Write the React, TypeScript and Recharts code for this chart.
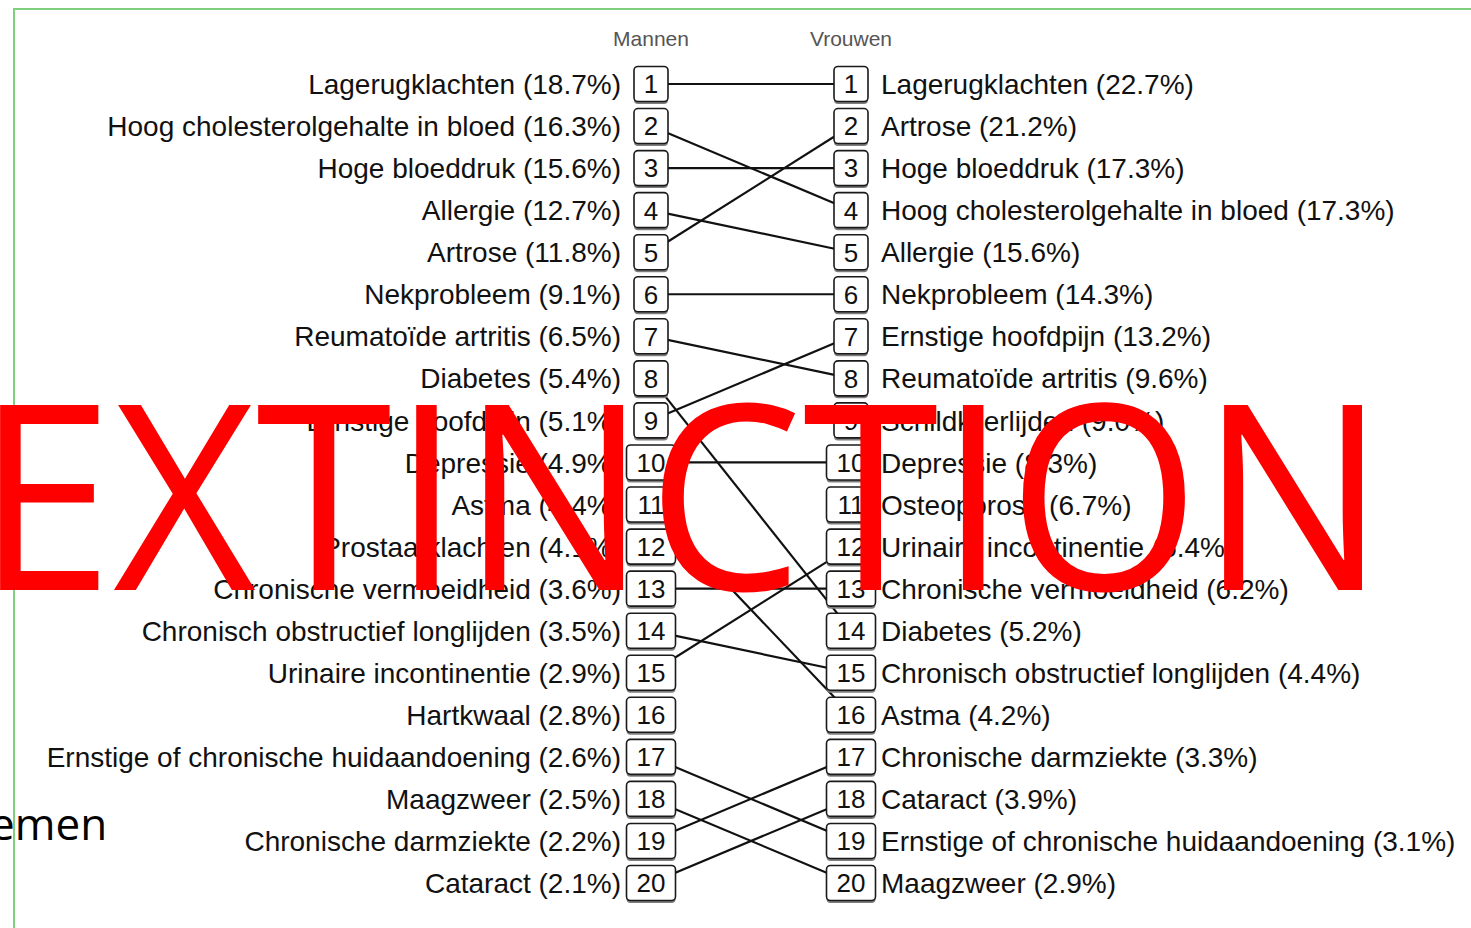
import React from "react";
import { ComposedChart, Line, Scatter, XAxis, YAxis } from "recharts";

const columnTitles = ["Mannen", "Vrouwen"];

const mannenNames = [
  "Lagerugklachten",
  "Hoog cholesterolgehalte in bloed",
  "Hoge bloeddruk",
  "Allergie",
  "Artrose",
  "Nekprobleem",
  "Reumatoïde artritis",
  "Diabetes",
  "Ernstige hoofdpijn",
  "Depressie",
  "Astma",
  "Prostaatklachten",
  "Chronische vermoeidheid",
  "Chronisch obstructief longlijden",
  "Urinaire incontinentie",
  "Hartkwaal",
  "Ernstige of chronische huidaandoening",
  "Maagzweer",
  "Chronische darmziekte",
  "Cataract",
];
const mannenPct = [18.7, 16.3, 15.6, 12.7, 11.8, 9.1, 6.5, 5.4, 5.1, 4.9, 4.4, 4.1, 3.6, 3.5, 2.9, 2.8, 2.6, 2.5, 2.2, 2.1];

const vrouwenNames = [
  "Lagerugklachten",
  "Artrose",
  "Hoge bloeddruk",
  "Hoog cholesterolgehalte in bloed",
  "Allergie",
  "Nekprobleem",
  "Ernstige hoofdpijn",
  "Reumatoïde artritis",
  "Schildklierlijden",
  "Depressie",
  "Osteoporose",
  "Urinaire incontinentie",
  "Chronische vermoeidheid",
  "Diabetes",
  "Chronisch obstructief longlijden",
  "Astma",
  "Chronische darmziekte",
  "Cataract",
  "Ernstige of chronische huidaandoening",
  "Maagzweer",
];
const vrouwenPct = [22.7, 21.2, 17.3, 17.3, 15.6, 14.3, 13.2, 9.6, 9.0, 8.3, 6.7, 6.4, 6.2, 5.2, 4.4, 4.2, 3.3, 3.9, 3.1, 2.9];

const overlayWord = "EXTINCTION";
const cutText = "emen";

const fmt = (n: string, p: number) => `${n} (${p.toFixed(1)}%)`;

const leftPoints = mannenNames.map((n, i) => ({ x: 0, y: i + 1, label: fmt(n, mannenPct[i]) }));
const rightPoints = vrouwenNames.map((n, i) => ({ x: 1, y: i + 1, label: fmt(n, vrouwenPct[i]) }));

const links = mannenNames
  .map((n, i) => {
    const j = vrouwenNames.indexOf(n);
    return j >= 0 ? { name: n, data: [{ x: 0, y: i + 1 }, { x: 1, y: j + 1 }] } : null;
  })
  .filter(Boolean) as { name: string; data: { x: number; y: number }[] }[];

const FONT = "'Liberation Sans', Arial, Helvetica, sans-serif";

const makeBox = (side: "left" | "right") => (props: any) => {
  const { cx, cy, payload } = props;
  if (cx == null || cy == null) return null;
  const num = String(payload.y);
  const w = num.length > 1 ? 49 : 34;
  const h = 35;
  const labelX = side === "left" ? cx - 30 : cx + 30;
  return (
    <g>
      <rect x={cx - w / 2} y={cy - h / 2 + 2.5} width={w} height={h} rx={4} fill="#7d7d7d" />
      <rect x={cx - w / 2} y={cy - h / 2} width={w} height={h} rx={4} fill="#fff" stroke="#1a1a1a" strokeWidth={1.6} />
      <text x={cx} y={cy} dy="0.36em" textAnchor="middle" fontFamily={FONT} fontSize={26} fill="#111">
        {num}
      </text>
      <text
        x={labelX}
        y={cy}
        dy="0.36em"
        textAnchor={side === "left" ? "end" : "start"}
        fontFamily={FONT}
        fontSize={28}
        fill="#111"
      >
        {payload.label}
      </text>
    </g>
  );
};

const HeaderTick = (props: any) => {
  const { x, payload } = props;
  return (
    <text x={x} y={38} dy="0.36em" textAnchor="middle" fontFamily={FONT} fontSize={21} fill="#555">
      {columnTitles[payload.value]}
    </text>
  );
};

export default function App() {
  return (
    <div style={{ position: "absolute", left: 0, top: 0, width: 1471, height: 928, overflow: "hidden", background: "#fff" }}>
      <div
        style={{
          position: "absolute",
          left: 13,
          top: 8,
          width: 1500,
          height: 1000,
          borderLeft: "2px solid #7fcf7f",
          borderTop: "2px solid #7fcf7f",
        }}
      />
      <div style={{ position: "absolute", left: 0, top: 0 }}>
        <ComposedChart width={1471} height={928} margin={{ top: 44, right: 620, bottom: 45, left: 651 }}>
          <XAxis
            type="number"
            dataKey="x"
            domain={[0, 1]}
            ticks={[0, 1]}
            orientation="top"
            height={40}
            axisLine={false}
            tickLine={false}
            tick={<HeaderTick />}
            interval={0}
          />
          <YAxis type="number" dataKey="y" domain={[1, 20]} reversed hide />
          {links.map((l) => (
            <Line
              key={l.name}
              data={l.data}
              dataKey="y"
              stroke="#111"
              strokeWidth={2.2}
              dot={false}
              activeDot={false}
              isAnimationActive={false}
            />
          ))}
          <Scatter data={leftPoints} dataKey="y" shape={makeBox("left")} isAnimationActive={false} />
          <Scatter data={rightPoints} dataKey="y" shape={makeBox("right")} isAnimationActive={false} />
        </ComposedChart>
      </div>
      <svg width={1471} height={928} style={{ position: "absolute", left: 0, top: 0, pointerEvents: "none" }}>
        <text x={-10} y={840} fontFamily="'Open Sans', sans-serif" fontSize={44} fill="#000">
          {cutText}
        </text>
        <text
          x={-24}
          y={590}
          fontFamily="'Open Sans', sans-serif"
          fontSize={259}
          fill="#ff0000"
          textLength={1410}
          lengthAdjust="spacingAndGlyphs"
        >
          {overlayWord}
        </text>
      </svg>
    </div>
  );
}
